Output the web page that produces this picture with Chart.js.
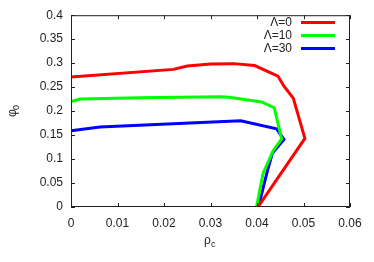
<!DOCTYPE html>
<html>
<head>
<meta charset="utf-8">
<script src="https://cdn.jsdelivr.net/npm/chart.js@4/dist/chart.umd.min.js"></script>
<style>
  body { margin: 0; background: #fff; }
  #wrap { width: 374px; height: 262px; }
</style>
</head>
<body>
<div id="wrap"><canvas id="plot" width="374" height="262"></canvas></div>
<script>
const labels = ['Λ=0', 'Λ=10', 'Λ=30'];
const colors = ['#ff0000', '#00ff00', '#0000ff'];

const rho0 = [0, 0.022, 0.025, 0.030, 0.035, 0.0395, 0.0445, 0.0458, 0.0478, 0.0503, 0.0402];
const phi0 = [0.271, 0.287, 0.294, 0.298, 0.299, 0.295, 0.273, 0.252, 0.227, 0.143, 0];

const rho10 = [0, 0.002, 0.015, 0.032, 0.034, 0.041, 0.0437, 0.0453, 0.0435, 0.0413, 0.041, 0.0399];
const phi10 = [0.220, 0.225, 0.228, 0.230, 0.229, 0.219, 0.207, 0.142, 0.118, 0.070, 0.055, 0];

const rho30 = [0, 0.0062, 0.0365, 0.0442, 0.0458, 0.0433, 0.0421, 0.0403];
const phi30 = [0.159, 0.167, 0.180, 0.163, 0.141, 0.112, 0.070, 0];

const xTicks = [0, 0.01, 0.02, 0.03, 0.04, 0.05, 0.06];
const yTicks = [0, 0.05, 0.1, 0.15, 0.2, 0.25, 0.3, 0.35, 0.4];

const series = [[rho0, phi0], [rho10, phi10], [rho30, phi30]];
const FONT = 'Liberation Sans, Arial, sans-serif';

function fmt(v) {
  return String(Number(v.toFixed(3)));
}

// gnuplot-like frame, inward ticks on all sides, titles and legend
const framePlugin = {
  id: 'frame',
  afterDraw(chart) {
    const ctx = chart.ctx;
    const a = chart.chartArea;
    const xs = chart.scales.x, ys = chart.scales.y;
    const tl = 4;
    ctx.save();
    ctx.strokeStyle = '#222';
    ctx.lineWidth = 1;
    ctx.strokeRect(a.left + 0.5, a.top + 0.5, a.right - a.left - 1, a.bottom - a.top - 1);
    ctx.beginPath();
    xTicks.forEach(v => {
      const px = Math.round(xs.getPixelForValue(v)) + 0.5;
      ctx.moveTo(px, a.bottom); ctx.lineTo(px, a.bottom - tl);
      ctx.moveTo(px, a.top); ctx.lineTo(px, a.top + tl);
    });
    yTicks.forEach(v => {
      const py = Math.round(ys.getPixelForValue(v)) + 0.5;
      ctx.moveTo(a.left, py); ctx.lineTo(a.left + tl, py);
      ctx.moveTo(a.right, py); ctx.lineTo(a.right - tl, py);
    });
    ctx.stroke();

    // axis titles
    ctx.fillStyle = '#222';
    ctx.textBaseline = 'alphabetic';
    ctx.font = '12px ' + FONT;
    ctx.textAlign = 'left';
    ctx.fillText('ρ', 204, 244);
    ctx.font = '9px ' + FONT;
    ctx.fillText('c', 211, 247);

    ctx.save();
    ctx.translate(16, 117);
    ctx.rotate(-Math.PI / 2);
    ctx.font = '12px ' + FONT;
    ctx.fillText('φ', 0, 0);
    ctx.font = '9px ' + FONT;
    ctx.fillText('0', 7, 3);
    ctx.restore();

    // legend: text then line sample
    ctx.font = '12px ' + FONT;
    ctx.textAlign = 'right';
    ctx.textBaseline = 'middle';
    labels.forEach((t, i) => {
      const y = 22.5 + i * 13;
      ctx.fillStyle = '#222';
      ctx.fillText(t, 292, y);
      ctx.strokeStyle = colors[i];
      ctx.lineWidth = 3;
      ctx.beginPath();
      ctx.moveTo(301, y); ctx.lineTo(335, y);
      ctx.stroke();
    });
    ctx.restore();
  }
};

const datasets = series.map((s, i) => ({
  label: labels[i],
  data: s[0].map((x, j) => ({ x: x, y: s[1][j] })),
  borderColor: colors[i],
  backgroundColor: colors[i],
  borderWidth: 3,
  pointRadius: 0,
  showLine: true,
  tension: 0
}));

new Chart(document.getElementById('plot'), {
  type: 'scatter',
  data: { datasets: datasets },
  options: {
    responsive: false,
    animation: false,
    layout: { padding: { top: 13, right: 24, left: 0, bottom: 0 } },
    plugins: { legend: { display: false }, tooltip: { enabled: false } },
    scales: {
      x: {
        type: 'linear', min: 0, max: 0.06,
        afterBuildTicks: s => { s.ticks = xTicks.map(v => ({ value: v })); },
        afterFit: s => { s.height = 55; },
        grid: { display: false, drawTicks: false },
        border: { display: false },
        ticks: { color: '#222', padding: 9, maxRotation: 0, font: { family: FONT, size: 12 }, callback: v => fmt(v) }
      },
      y: {
        type: 'linear', min: 0, max: 0.4,
        afterBuildTicks: s => { s.ticks = yTicks.map(v => ({ value: v })); },
        afterFit: s => { s.width = 71; },
        grid: { display: false, drawTicks: false },
        border: { display: false },
        ticks: { color: '#222', padding: 8, font: { family: FONT, size: 12 }, callback: v => fmt(v) }
      }
    }
  },
  plugins: [framePlugin]
});
</script>
</body>
</html>
